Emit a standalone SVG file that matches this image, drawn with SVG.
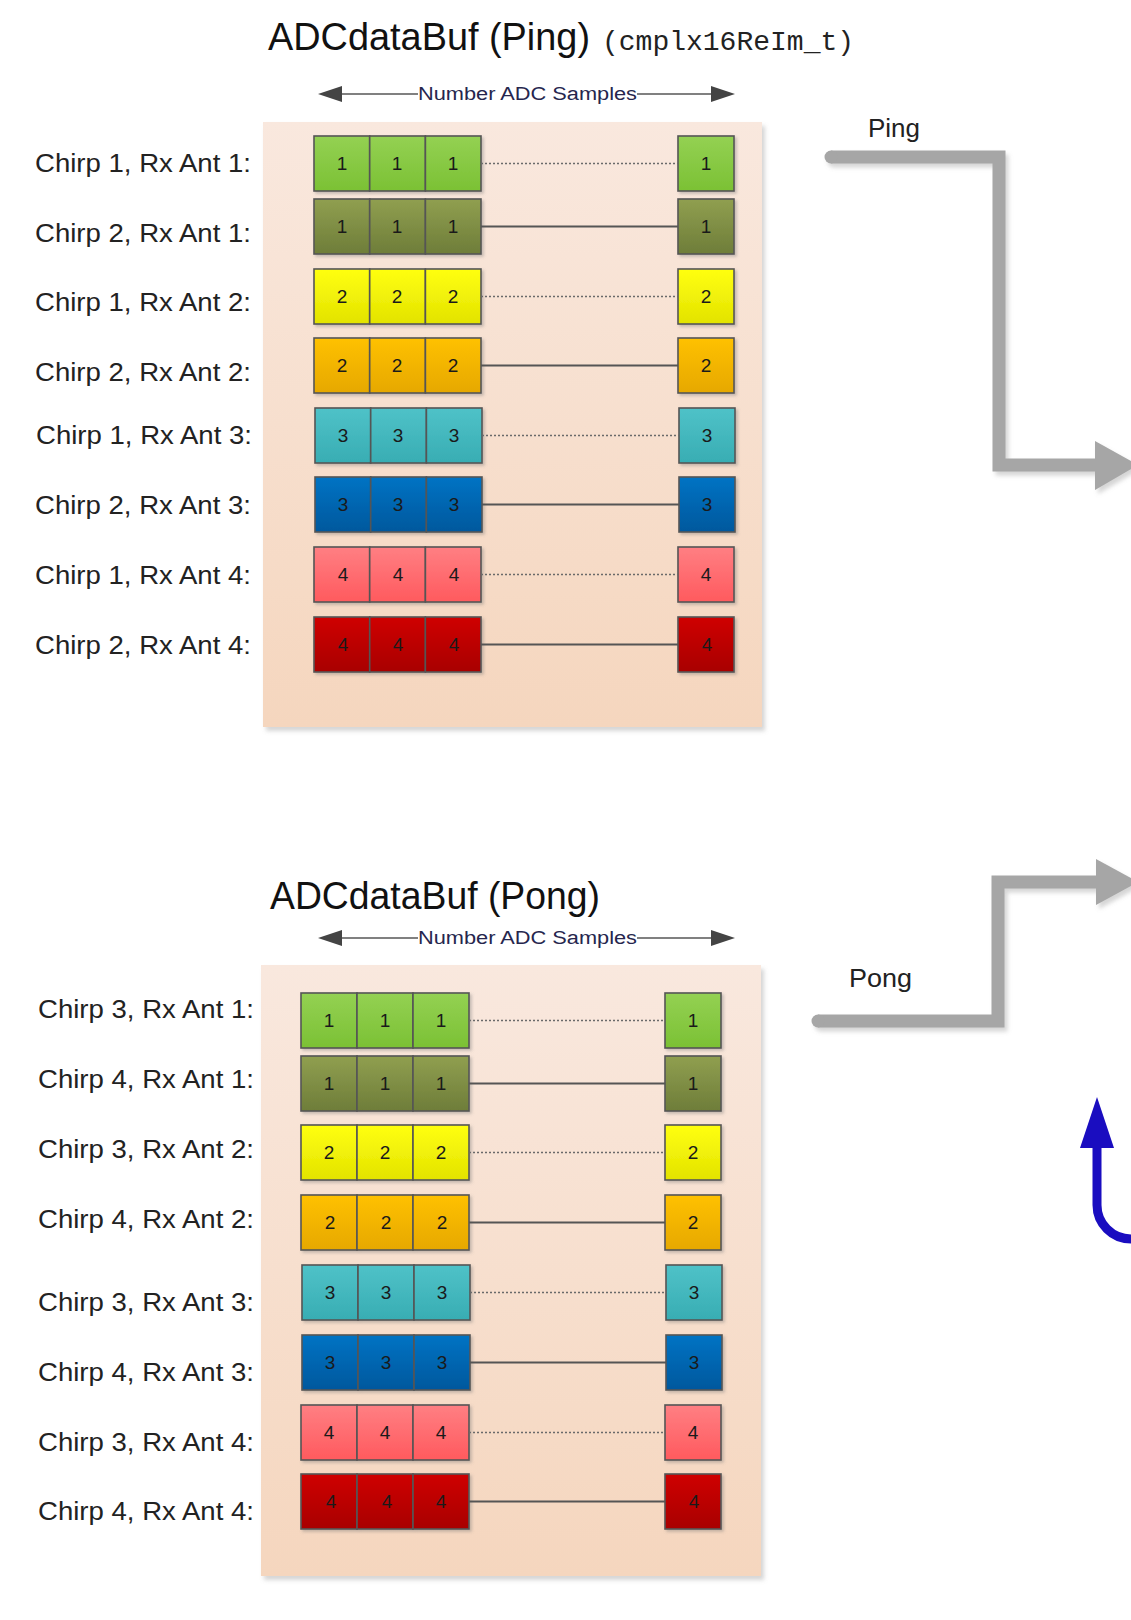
<svg xmlns="http://www.w3.org/2000/svg" width="1131" height="1620" viewBox="0 0 1131 1620">
<defs>
<linearGradient id="gPanel" x1="0" y1="0" x2="0" y2="1"><stop offset="0" stop-color="#f9e8de"/><stop offset="1" stop-color="#f5d6be"/></linearGradient>
<linearGradient id="g-lg" x1="0" y1="0" x2="0" y2="1"><stop offset="0" stop-color="#94d153"/><stop offset="1" stop-color="#7bc134"/></linearGradient>
<linearGradient id="g-ol" x1="0" y1="0" x2="0" y2="1"><stop offset="0" stop-color="#909f50"/><stop offset="1" stop-color="#6e7d39"/></linearGradient>
<linearGradient id="g-ye" x1="0" y1="0" x2="0" y2="1"><stop offset="0" stop-color="#ffff10"/><stop offset="1" stop-color="#e3e300"/></linearGradient>
<linearGradient id="g-or" x1="0" y1="0" x2="0" y2="1"><stop offset="0" stop-color="#ffc106"/><stop offset="1" stop-color="#e6a800"/></linearGradient>
<linearGradient id="g-cy" x1="0" y1="0" x2="0" y2="1"><stop offset="0" stop-color="#4fc2c8"/><stop offset="1" stop-color="#38adb3"/></linearGradient>
<linearGradient id="g-bl" x1="0" y1="0" x2="0" y2="1"><stop offset="0" stop-color="#0073c4"/><stop offset="1" stop-color="#00589d"/></linearGradient>
<linearGradient id="g-pk" x1="0" y1="0" x2="0" y2="1"><stop offset="0" stop-color="#ff7f83"/><stop offset="1" stop-color="#ff5a5e"/></linearGradient>
<linearGradient id="g-rd" x1="0" y1="0" x2="0" y2="1"><stop offset="0" stop-color="#cf0000"/><stop offset="1" stop-color="#a80000"/></linearGradient>
<filter id="sh" x="-10%" y="-10%" width="130%" height="130%"><feDropShadow dx="3" dy="4" stdDeviation="2" flood-color="#888" flood-opacity="0.35"/></filter>
<filter id="csh" x="-10%" y="-10%" width="130%" height="130%"><feDropShadow dx="2" dy="2" stdDeviation="1.5" flood-color="#777" flood-opacity="0.4"/></filter>
</defs>
<style>
.title{font-family:"Liberation Sans",Arial,sans-serif;font-size:38px;fill:#111;}
.mono{font-family:"Liberation Mono","DejaVu Sans Mono",monospace;font-size:28px;fill:#222;}
.axis{font-family:"Liberation Sans",Arial,sans-serif;font-size:18px;fill:#26264e;}
.lbl{font-family:"Liberation Sans",Arial,sans-serif;font-size:26px;fill:#222;}
.flow{font-family:"Liberation Sans",Arial,sans-serif;font-size:25px;fill:#222;}
.num{font-family:"Liberation Sans",Arial,sans-serif;font-size:19px;fill:#1a1a1a;text-anchor:middle;}
.cell{stroke:#555;stroke-width:1.6;}
.dot{stroke:#6a6a6a;stroke-width:1.6;stroke-dasharray:2 2;fill:none;}
.sol{stroke:#555;stroke-width:1.8;fill:none;}
.axl{stroke:#808080;stroke-width:2.2;fill:none;}
.axh{fill:#444;}
.big{stroke:#a6a6a6;stroke-width:13;fill:none;stroke-linejoin:miter;}
.bighead{fill:#a6a6a6;}
</style>

<!-- Ping panel -->
<g id="ping-title">
<text class="title" x="268" y="50" textLength="322" lengthAdjust="spacingAndGlyphs">ADCdataBuf (Ping)</text>
<text class="mono" x="602" y="50">(cmplx16ReIm_t)</text>
</g>
<g id="ping-axis-label"><text class="axis" x="418" y="100" textLength="219" lengthAdjust="spacingAndGlyphs">Number ADC Samples</text></g>
<g id="ping-panel"><rect x="263" y="122" width="499" height="605" fill="url(#gPanel)" filter="url(#sh)"/></g>

<g id="ping-labels">
<text class="lbl" x="35" y="172" textLength="216" lengthAdjust="spacingAndGlyphs">Chirp 1, Rx Ant 1:</text>
<text class="lbl" x="35" y="242" textLength="216" lengthAdjust="spacingAndGlyphs">Chirp 2, Rx Ant 1:</text>
<text class="lbl" x="35" y="311" textLength="216" lengthAdjust="spacingAndGlyphs">Chirp 1, Rx Ant 2:</text>
<text class="lbl" x="35" y="381" textLength="216" lengthAdjust="spacingAndGlyphs">Chirp 2, Rx Ant 2:</text>
<text class="lbl" x="36" y="444" textLength="216" lengthAdjust="spacingAndGlyphs">Chirp 1, Rx Ant 3:</text>
<text class="lbl" x="35" y="514" textLength="216" lengthAdjust="spacingAndGlyphs">Chirp 2, Rx Ant 3:</text>
<text class="lbl" x="35" y="584" textLength="216" lengthAdjust="spacingAndGlyphs">Chirp 1, Rx Ant 4:</text>
<text class="lbl" x="35" y="654" textLength="216" lengthAdjust="spacingAndGlyphs">Chirp 2, Rx Ant 4:</text>
</g>

<g id="ping-row1" filter="url(#csh)"><rect class="cell" x="314" y="136" width="55.7" height="55" fill="url(#g-lg)"/><rect class="cell" x="369.7" y="136" width="55.7" height="55" fill="url(#g-lg)"/><rect class="cell" x="425.4" y="136" width="55.6" height="55" fill="url(#g-lg)"/><rect class="cell" x="678" y="136" width="56" height="55" fill="url(#g-lg)"/></g>
<g id="ping-row2" filter="url(#csh)"><rect class="cell" x="314" y="199" width="55.7" height="55" fill="url(#g-ol)"/><rect class="cell" x="369.7" y="199" width="55.7" height="55" fill="url(#g-ol)"/><rect class="cell" x="425.4" y="199" width="55.6" height="55" fill="url(#g-ol)"/><rect class="cell" x="678" y="199" width="56" height="55" fill="url(#g-ol)"/></g>
<g id="ping-row3" filter="url(#csh)"><rect class="cell" x="314" y="269" width="55.7" height="55" fill="url(#g-ye)"/><rect class="cell" x="369.7" y="269" width="55.7" height="55" fill="url(#g-ye)"/><rect class="cell" x="425.4" y="269" width="55.6" height="55" fill="url(#g-ye)"/><rect class="cell" x="678" y="269" width="56" height="55" fill="url(#g-ye)"/></g>
<g id="ping-row4" filter="url(#csh)"><rect class="cell" x="314" y="338" width="55.7" height="55" fill="url(#g-or)"/><rect class="cell" x="369.7" y="338" width="55.7" height="55" fill="url(#g-or)"/><rect class="cell" x="425.4" y="338" width="55.6" height="55" fill="url(#g-or)"/><rect class="cell" x="678" y="338" width="56" height="55" fill="url(#g-or)"/></g>
<g id="ping-row5" filter="url(#csh)"><rect class="cell" x="315" y="408" width="55.7" height="55" fill="url(#g-cy)"/><rect class="cell" x="370.7" y="408" width="55.7" height="55" fill="url(#g-cy)"/><rect class="cell" x="426.4" y="408" width="55.6" height="55" fill="url(#g-cy)"/><rect class="cell" x="679" y="408" width="56" height="55" fill="url(#g-cy)"/></g>
<g id="ping-row6" filter="url(#csh)"><rect class="cell" x="315" y="477" width="55.7" height="55" fill="url(#g-bl)"/><rect class="cell" x="370.7" y="477" width="55.7" height="55" fill="url(#g-bl)"/><rect class="cell" x="426.4" y="477" width="55.6" height="55" fill="url(#g-bl)"/><rect class="cell" x="679" y="477" width="56" height="55" fill="url(#g-bl)"/></g>
<g id="ping-row7" filter="url(#csh)"><rect class="cell" x="314" y="547" width="55.7" height="55" fill="url(#g-pk)"/><rect class="cell" x="369.7" y="547" width="55.7" height="55" fill="url(#g-pk)"/><rect class="cell" x="425.4" y="547" width="55.6" height="55" fill="url(#g-pk)"/><rect class="cell" x="678" y="547" width="56" height="55" fill="url(#g-pk)"/></g>
<g id="ping-row8" filter="url(#csh)"><rect class="cell" x="314" y="617" width="55.7" height="55" fill="url(#g-rd)"/><rect class="cell" x="369.7" y="617" width="55.7" height="55" fill="url(#g-rd)"/><rect class="cell" x="425.4" y="617" width="55.6" height="55" fill="url(#g-rd)"/><rect class="cell" x="678" y="617" width="56" height="55" fill="url(#g-rd)"/></g>

<g id="ping-numbers">
<text class="num" x="342" y="170">1</text><text class="num" x="397" y="170">1</text><text class="num" x="453" y="170">1</text><text class="num" x="706" y="170">1</text>
<text class="num" x="342" y="233">1</text><text class="num" x="397" y="233">1</text><text class="num" x="453" y="233">1</text><text class="num" x="706" y="233">1</text>
<text class="num" x="342" y="303">2</text><text class="num" x="397" y="303">2</text><text class="num" x="453" y="303">2</text><text class="num" x="706" y="303">2</text>
<text class="num" x="342" y="372">2</text><text class="num" x="397" y="372">2</text><text class="num" x="453" y="372">2</text><text class="num" x="706" y="372">2</text>
<text class="num" x="343" y="442">3</text><text class="num" x="398" y="442">3</text><text class="num" x="454" y="442">3</text><text class="num" x="707" y="442">3</text>
<text class="num" x="343" y="511">3</text><text class="num" x="398" y="511">3</text><text class="num" x="454" y="511">3</text><text class="num" x="707" y="511">3</text>
<text class="num" x="343" y="581">4</text><text class="num" x="398" y="581">4</text><text class="num" x="454" y="581">4</text><text class="num" x="706" y="581">4</text>
<text class="num" x="343" y="651">4</text><text class="num" x="398" y="651">4</text><text class="num" x="454" y="651">4</text><text class="num" x="707" y="651">4</text>
</g>

<!-- Pong panel -->
<g id="pong-title"><text class="title" x="270" y="909" textLength="330" lengthAdjust="spacingAndGlyphs">ADCdataBuf (Pong)</text></g>
<g id="pong-axis-label"><text class="axis" x="418" y="944" textLength="219" lengthAdjust="spacingAndGlyphs">Number ADC Samples</text></g>
<g id="pong-panel"><rect x="261" y="965" width="500" height="611" fill="url(#gPanel)" filter="url(#sh)"/></g>

<g id="pong-labels">
<text class="lbl" x="38" y="1018" textLength="216" lengthAdjust="spacingAndGlyphs">Chirp 3, Rx Ant 1:</text>
<text class="lbl" x="38" y="1088" textLength="216" lengthAdjust="spacingAndGlyphs">Chirp 4, Rx Ant 1:</text>
<text class="lbl" x="38" y="1158" textLength="216" lengthAdjust="spacingAndGlyphs">Chirp 3, Rx Ant 2:</text>
<text class="lbl" x="38" y="1228" textLength="216" lengthAdjust="spacingAndGlyphs">Chirp 4, Rx Ant 2:</text>
<text class="lbl" x="38" y="1311" textLength="216" lengthAdjust="spacingAndGlyphs">Chirp 3, Rx Ant 3:</text>
<text class="lbl" x="38" y="1381" textLength="216" lengthAdjust="spacingAndGlyphs">Chirp 4, Rx Ant 3:</text>
<text class="lbl" x="38" y="1451" textLength="216" lengthAdjust="spacingAndGlyphs">Chirp 3, Rx Ant 4:</text>
<text class="lbl" x="38" y="1520" textLength="216" lengthAdjust="spacingAndGlyphs">Chirp 4, Rx Ant 4:</text>
</g>

<g id="pong-row1" filter="url(#csh)"><rect class="cell" x="301" y="993" width="56" height="55" fill="url(#g-lg)"/><rect class="cell" x="357" y="993" width="56" height="55" fill="url(#g-lg)"/><rect class="cell" x="413" y="993" width="56" height="55" fill="url(#g-lg)"/><rect class="cell" x="665" y="993" width="56" height="55" fill="url(#g-lg)"/></g>
<g id="pong-row2" filter="url(#csh)"><rect class="cell" x="301" y="1056" width="56" height="55" fill="url(#g-ol)"/><rect class="cell" x="357" y="1056" width="56" height="55" fill="url(#g-ol)"/><rect class="cell" x="413" y="1056" width="56" height="55" fill="url(#g-ol)"/><rect class="cell" x="665" y="1056" width="56" height="55" fill="url(#g-ol)"/></g>
<g id="pong-row3" filter="url(#csh)"><rect class="cell" x="301" y="1125" width="56" height="55" fill="url(#g-ye)"/><rect class="cell" x="357" y="1125" width="56" height="55" fill="url(#g-ye)"/><rect class="cell" x="413" y="1125" width="56" height="55" fill="url(#g-ye)"/><rect class="cell" x="665" y="1125" width="56" height="55" fill="url(#g-ye)"/></g>
<g id="pong-row4" filter="url(#csh)"><rect class="cell" x="301" y="1195" width="56" height="55" fill="url(#g-or)"/><rect class="cell" x="357" y="1195" width="56" height="55" fill="url(#g-or)"/><rect class="cell" x="413" y="1195" width="56" height="55" fill="url(#g-or)"/><rect class="cell" x="665" y="1195" width="56" height="55" fill="url(#g-or)"/></g>
<g id="pong-row5" filter="url(#csh)"><rect class="cell" x="302" y="1265" width="56" height="55" fill="url(#g-cy)"/><rect class="cell" x="358" y="1265" width="56" height="55" fill="url(#g-cy)"/><rect class="cell" x="414" y="1265" width="56" height="55" fill="url(#g-cy)"/><rect class="cell" x="666" y="1265" width="56" height="55" fill="url(#g-cy)"/></g>
<g id="pong-row6" filter="url(#csh)"><rect class="cell" x="302" y="1335" width="56" height="55" fill="url(#g-bl)"/><rect class="cell" x="358" y="1335" width="56" height="55" fill="url(#g-bl)"/><rect class="cell" x="414" y="1335" width="56" height="55" fill="url(#g-bl)"/><rect class="cell" x="666" y="1335" width="56" height="55" fill="url(#g-bl)"/></g>
<g id="pong-row7" filter="url(#csh)"><rect class="cell" x="301" y="1405" width="56" height="55" fill="url(#g-pk)"/><rect class="cell" x="357" y="1405" width="56" height="55" fill="url(#g-pk)"/><rect class="cell" x="413" y="1405" width="56" height="55" fill="url(#g-pk)"/><rect class="cell" x="665" y="1405" width="56" height="55" fill="url(#g-pk)"/></g>
<g id="pong-row8" filter="url(#csh)"><rect class="cell" x="301" y="1474" width="56" height="55" fill="url(#g-rd)"/><rect class="cell" x="357" y="1474" width="56" height="55" fill="url(#g-rd)"/><rect class="cell" x="413" y="1474" width="56" height="55" fill="url(#g-rd)"/><rect class="cell" x="665" y="1474" width="56" height="55" fill="url(#g-rd)"/></g>

<g id="pong-numbers">
<text class="num" x="329" y="1027">1</text><text class="num" x="385" y="1027">1</text><text class="num" x="441" y="1027">1</text><text class="num" x="693" y="1027">1</text>
<text class="num" x="329" y="1090">1</text><text class="num" x="385" y="1090">1</text><text class="num" x="441" y="1090">1</text><text class="num" x="693" y="1090">1</text>
<text class="num" x="329" y="1159">2</text><text class="num" x="385" y="1159">2</text><text class="num" x="441" y="1159">2</text><text class="num" x="693" y="1159">2</text>
<text class="num" x="330" y="1229">2</text><text class="num" x="386" y="1229">2</text><text class="num" x="442" y="1229">2</text><text class="num" x="693" y="1229">2</text>
<text class="num" x="330" y="1299">3</text><text class="num" x="386" y="1299">3</text><text class="num" x="442" y="1299">3</text><text class="num" x="694" y="1299">3</text>
<text class="num" x="330" y="1369">3</text><text class="num" x="386" y="1369">3</text><text class="num" x="442" y="1369">3</text><text class="num" x="694" y="1369">3</text>
<text class="num" x="329" y="1439">4</text><text class="num" x="385" y="1439">4</text><text class="num" x="441" y="1439">4</text><text class="num" x="693" y="1439">4</text>
<text class="num" x="331" y="1508">4</text><text class="num" x="387" y="1508">4</text><text class="num" x="441" y="1508">4</text><text class="num" x="694" y="1508">4</text>
</g>

<g id="connectors">
<!-- axis arrows -->
<path class="axl" d="M336 94 H418 M637 94 H717"/>
<polygon class="axh" points="318,94 342,86 342,102"/>
<polygon class="axh" points="735,94 711,86 711,102"/>
<path class="axl" d="M336 938 H418 M637 938 H717"/>
<polygon class="axh" points="318,938 342,930 342,946"/>
<polygon class="axh" points="735,938 711,930 711,946"/>
<!-- row links ping -->
<path class="dot" d="M481 163.5 H678"/>
<path class="sol" d="M481 226.5 H678"/>
<path class="dot" d="M481 296.5 H678"/>
<path class="sol" d="M481 365.5 H678"/>
<path class="dot" d="M482 435.5 H679"/>
<path class="sol" d="M482 504.5 H679"/>
<path class="dot" d="M481 574.5 H678"/>
<path class="sol" d="M481 644.5 H678"/>
<!-- row links pong -->
<path class="dot" d="M469 1020.5 H665"/>
<path class="sol" d="M469 1083.5 H665"/>
<path class="dot" d="M469 1152.5 H665"/>
<path class="sol" d="M469 1222.5 H665"/>
<path class="dot" d="M470 1292.5 H666"/>
<path class="sol" d="M470 1362.5 H666"/>
<path class="dot" d="M469 1432.5 H665"/>
<path class="sol" d="M469 1501.5 H665"/>
<!-- Ping flow arrow -->
<g filter="url(#sh)">
<path class="big" d="M831 157 H999 V465 H1097" stroke-linecap="butt"/>
<circle cx="831" cy="157" r="6.5" class="bighead"/>
<polygon class="bighead" points="1095,441 1138,465 1095,490"/>
</g>
<!-- Pong flow arrow -->
<g filter="url(#sh)">
<path class="big" d="M818 1021 H998 V882 H1097"/>
<circle cx="818" cy="1021" r="6.5" class="bighead"/>
<polygon class="bighead" points="1096,859 1138,882 1096,905"/>
</g>
<!-- blue arrow -->
<path d="M1097 1145 V1205 A34 34 0 0 0 1131 1239" fill="none" stroke="#1a0dc0" stroke-width="9"/>
<polygon points="1097,1097 1080,1148 1114,1148" fill="#1a0dc0"/>
</g>

<g id="flow-labels">
<text class="flow" x="868" y="137" textLength="52" lengthAdjust="spacingAndGlyphs">Ping</text>
<text class="flow" x="849" y="987" textLength="63" lengthAdjust="spacingAndGlyphs">Pong</text>
</g>
</svg>
